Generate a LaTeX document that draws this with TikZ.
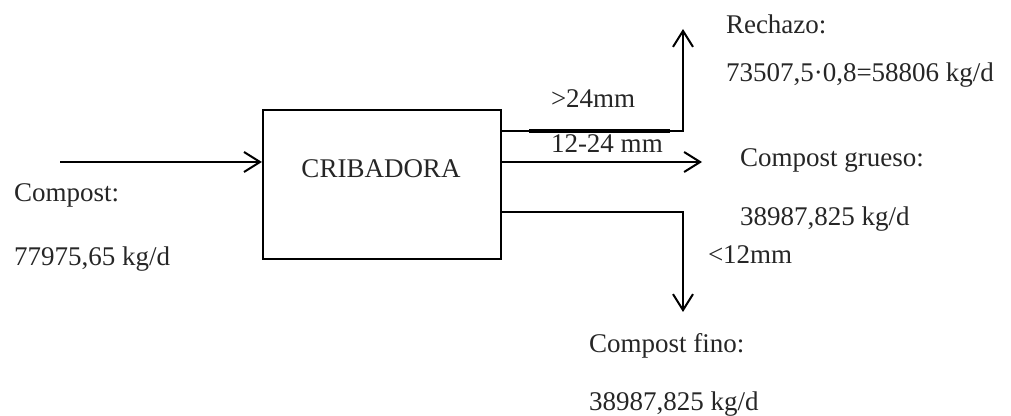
\documentclass[tikz,border=0pt]{standalone}
\usepackage{fontspec}
\setmainfont{Liberation Serif}
\usetikzlibrary{arrows.meta}
\begin{document}
\begin{tikzpicture}[x=0.5pt,y=-0.5pt,
  line width=1pt,
  every node/.style={font=\fontsize{13.5}{16}\selectfont, text=black!85},
  txt/.style={anchor=base west, inner sep=0pt},
  arr/.style={-{Straight Barb[length=8pt,width=10pt,line width=1pt]}},
  boxst/.style={draw, line width=1.1pt, minimum width=119pt, minimum height=74.5pt, inner sep=0pt},
  thickseg/.style={line width=2.4pt}]
\useasboundingbox (0,0) rectangle (1011,416);
% box
\node[boxst] (crib) at (382,184.5) {};
\node[anchor=base, inner sep=0pt] (cribt) at (381,178) {CRIBADORA};
% input
\coordinate (inS) at (60,162);
\draw[arr] (inS) -- (inS -| crib.west);
% top output
\coordinate (tA) at (683,131);
\coordinate (tTip) at (683,29);
\draw[arr] (crib.east |- tA) -- (tA) -- (tTip);
\coordinate (thS) at (529,131);
\coordinate (thE) at (670,131);
\draw[thickseg] (thS) -- (thE);
% middle output
\coordinate (mTip) at (702,162);
\draw[arr] (crib.east |- mTip) -- (mTip);
% bottom output
\coordinate (bA) at (683,212);
\coordinate (bTip) at (683,312);
\draw[arr] (crib.east |- bA) -- (bA) -- (bTip);
% texts
\node[txt] (rech) at (725,34) {Rechazo:};
\node[txt] (rechv) at (725,82) {73507,5·0,8=58806 kg/d};
\node[txt] (g24) at (550,108) {>24mm};
\node[txt] (m1224) at (550,153) {12-24 mm};
\node[txt] (cg) at (739,167) {Compost grueso:};
\node[txt] (cgv) at (739,226) {38987,825 kg/d};
\node[txt] (l12) at (707,264) {<12mm};
\node[txt] (cin) at (13,202) {Compost:};
\node[txt] (cinv) at (13,266) {77975,65 kg/d};
\node[txt] (cf) at (588,352) {Compost fino:};
\node[txt] (cfv) at (588,410) {38987,825 kg/d};
\end{tikzpicture}
\end{document}
